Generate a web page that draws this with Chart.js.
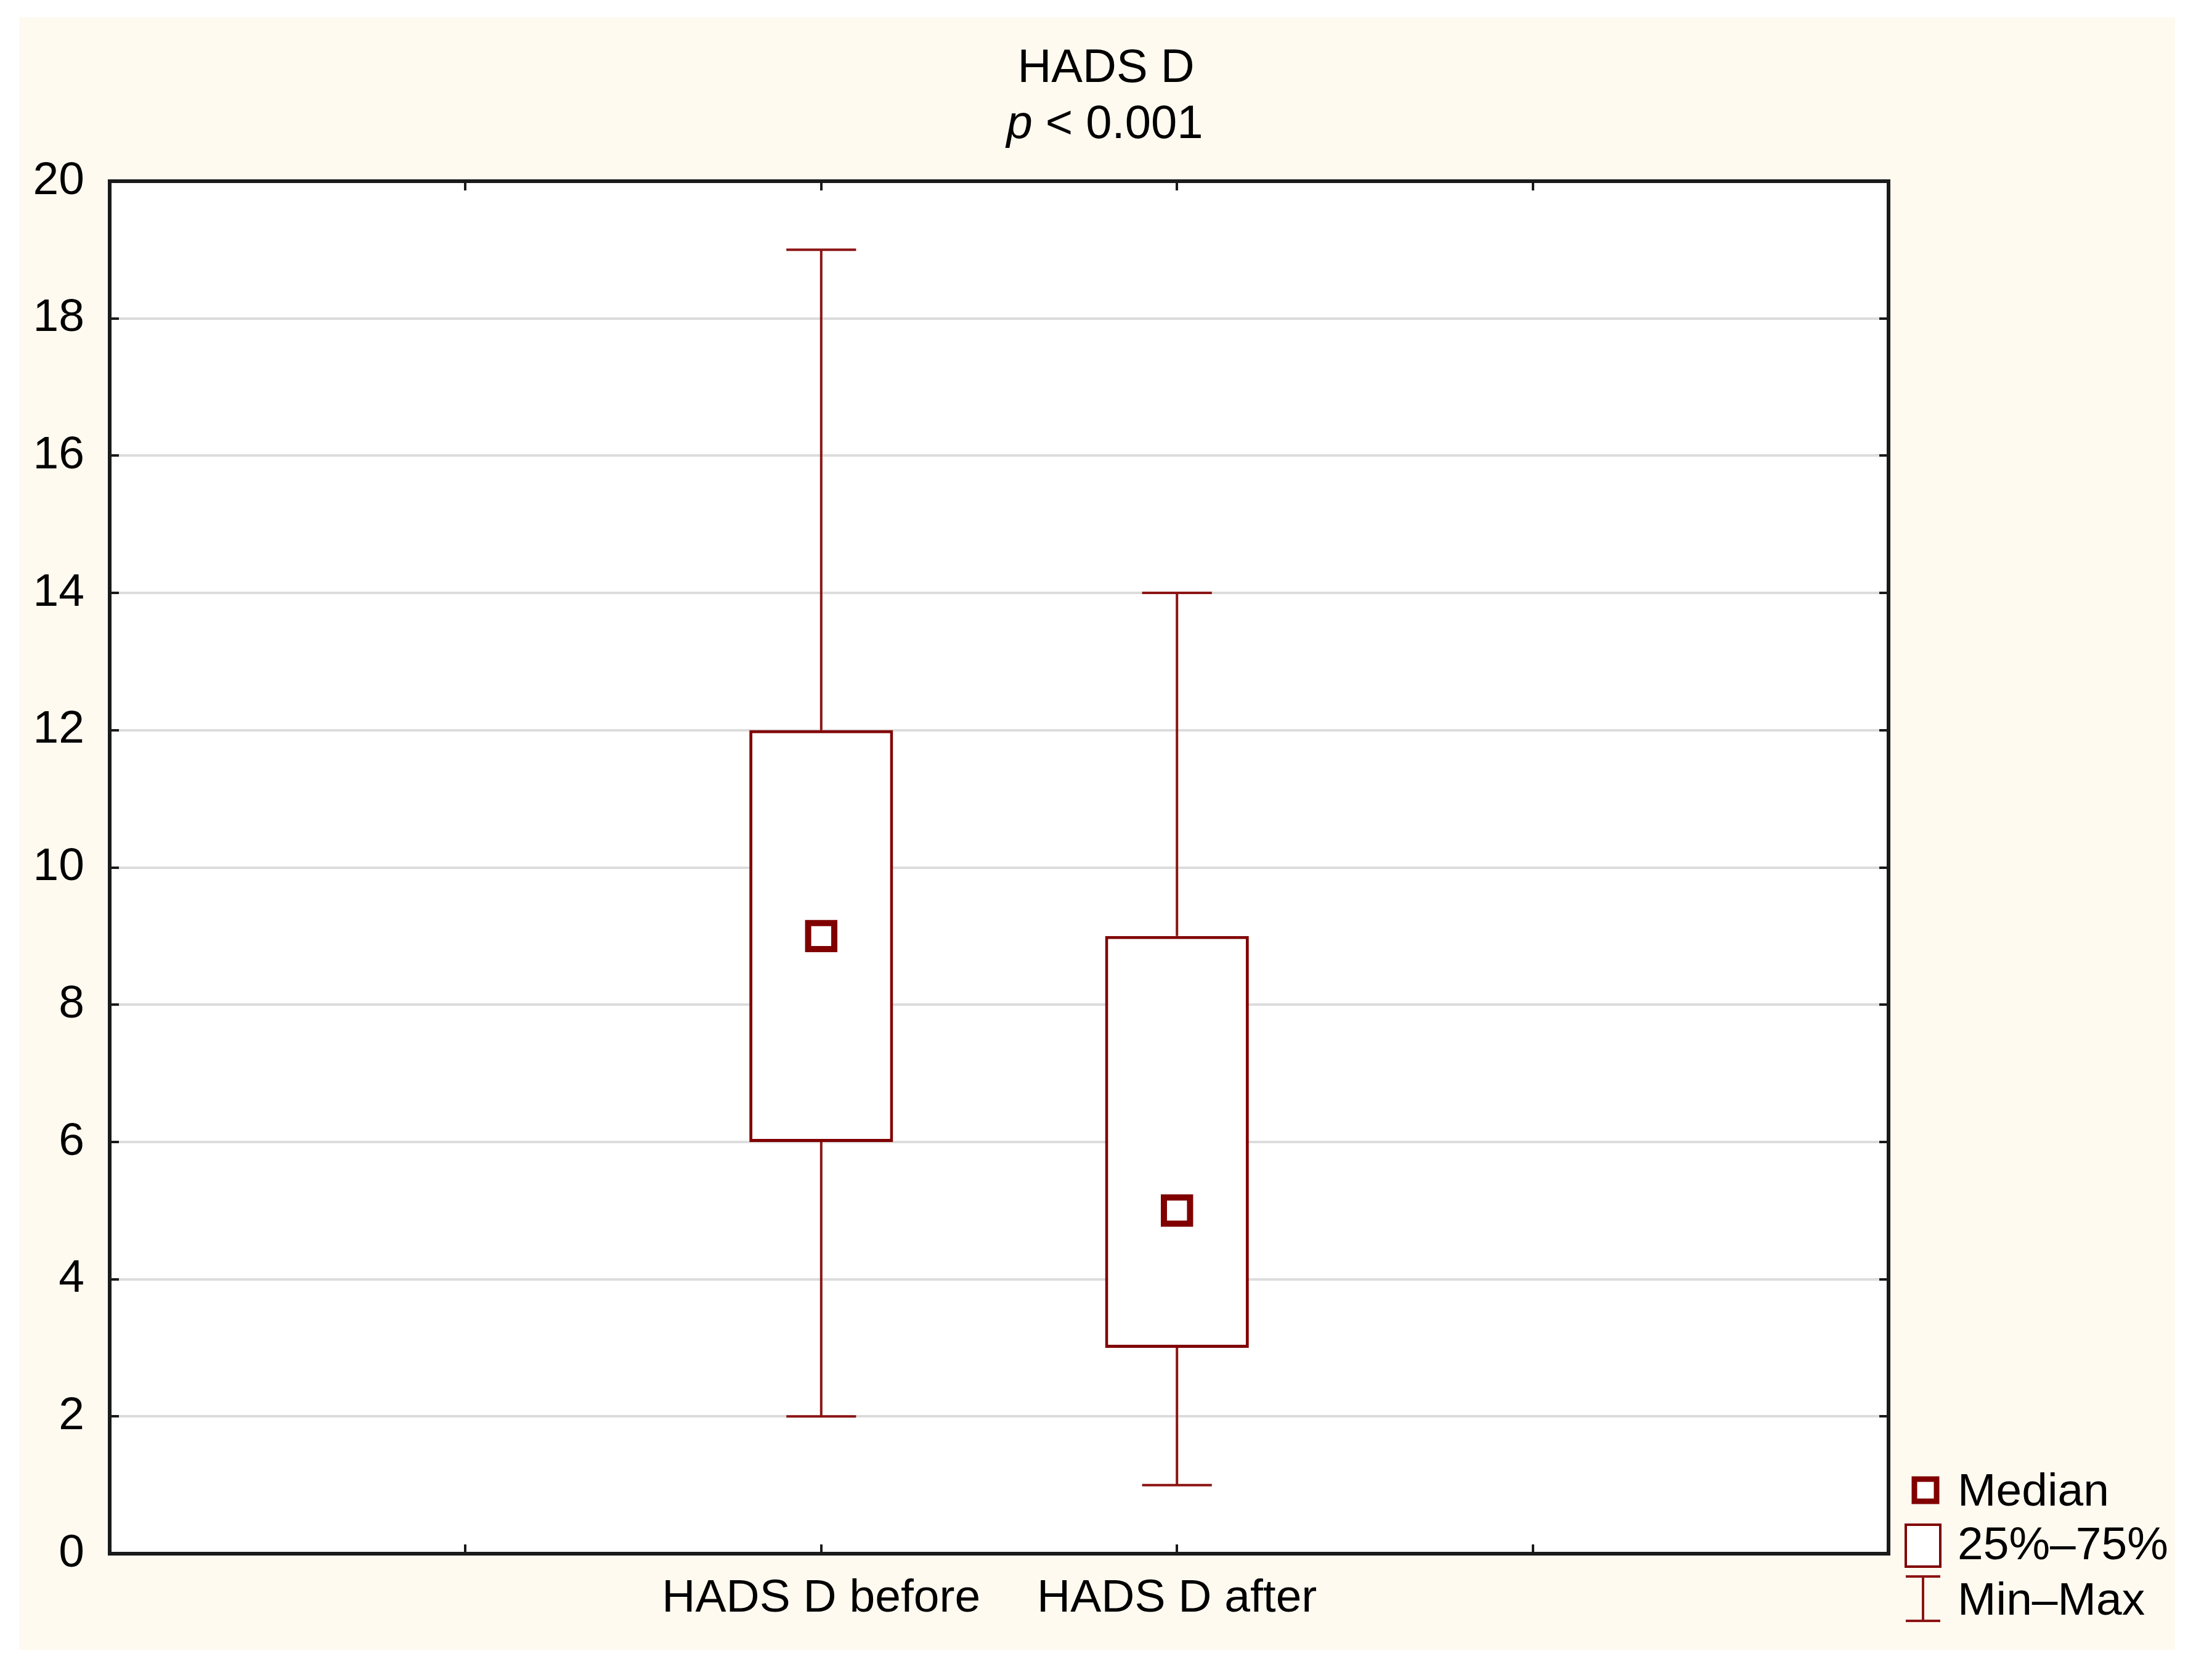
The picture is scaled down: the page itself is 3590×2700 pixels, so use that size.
<!DOCTYPE html>
<html><head><meta charset="utf-8">
<script src="https://cdn.jsdelivr.net/npm/chart.js@4/dist/chart.umd.min.js"></script>
<style>html,body{margin:0;padding:0;background:#fff;} canvas{display:block;}</style>
</head><body>
<canvas id="c" width="3590" height="2700" style="width:3590px;height:2700px"></canvas>
<script>
// ---- data ----
const categories = ['HADS D before', 'HADS D after'];
const catPositions = [2, 3];
const minValues = [2, 1];
const q1Values = [6, 3];
const medianValues = [9, 5];
const q3Values = [12, 9];
const maxValues = [19, 14];
const yTickValues = [0, 2, 4, 6, 8, 10, 12, 14, 16, 18, 20];
const xTickPositions = [1, 2, 3, 4];
const legendLabels = ['Median', '25%\u201375%', 'Min\u2013Max'];
const titleMain = 'HADS D';
const titleP = 'p';
const titleRest = ' < 0.001';

// ---- styles ----
const RED = '#800000';
const WRED = '#8c1414';
const FONT = '"Liberation Sans", Arial, sans-serif';
const CAP = 0.098;

const boxData = catPositions.map((x, i) => ({x: x, y: [q1Values[i], q3Values[i]]}));
const medData = catPositions.map((x, i) => ({x: x, y: medianValues[i]}));
const whiskerData = [];
catPositions.forEach((x, i) => {
  whiskerData.push({x: x, y: q3Values[i]}, {x: x, y: maxValues[i]}, {x: x, y: null});
  whiskerData.push({x: x - CAP, y: maxValues[i]}, {x: x + CAP, y: maxValues[i]}, {x: x, y: null});
  whiskerData.push({x: x, y: q1Values[i]}, {x: x, y: minValues[i]}, {x: x, y: null});
  whiskerData.push({x: x - CAP, y: minValues[i]}, {x: x + CAP, y: minValues[i]}, {x: x, y: null});
});

const bgPlugin = {
  id: 'bg',
  beforeDraw(chart) {
    const ctx = chart.ctx, a = chart.chartArea;
    ctx.save();
    ctx.fillStyle = '#ffffff';
    ctx.fillRect(0, 0, chart.width, chart.height);
    ctx.fillStyle = '#fffaf0';
    ctx.fillRect(31, 28, 3499, 2649);
    ctx.fillStyle = '#ffffff';
    ctx.fillRect(a.left, a.top, a.right - a.left, a.bottom - a.top);
    ctx.restore();
  }
};

const framePlugin = {
  id: 'frame',
  afterDatasetsDraw(chart) {
    const ctx = chart.ctx, a = chart.chartArea;
    const xs = chart.scales.x, ys = chart.scales.y;
    ctx.save();
    ctx.strokeStyle = '#1a1a1a';
    ctx.lineWidth = 4;
    xTickPositions.forEach(v => {
      const px = Math.round(xs.getPixelForValue(v));
      ctx.beginPath();
      ctx.moveTo(px, a.bottom); ctx.lineTo(px, a.bottom - 15);
      ctx.moveTo(px, a.top); ctx.lineTo(px, a.top + 15);
      ctx.stroke();
    });
    yTickValues.forEach(v => {
      const py = Math.round(ys.getPixelForValue(v));
      ctx.beginPath();
      ctx.moveTo(a.left, py); ctx.lineTo(a.left + 15, py);
      ctx.moveTo(a.right, py); ctx.lineTo(a.right - 15, py);
      ctx.stroke();
    });
    ctx.lineWidth = 6;
    ctx.strokeRect(a.left, a.top, a.right - a.left, a.bottom - a.top);
    ctx.restore();
  },
  afterDraw(chart) {
    const ctx = chart.ctx, a = chart.chartArea;
    ctx.save();
    ctx.fillStyle = '#000';
    ctx.textBaseline = 'alphabetic';
    // title
    const cx = chart.width / 2;
    ctx.font = '76px ' + FONT;
    ctx.textAlign = 'center';
    ctx.fillText(titleMain, cx, 133);
    ctx.textAlign = 'left';
    ctx.font = 'italic 76px ' + FONT;
    const wp = ctx.measureText(titleP).width;
    ctx.font = '76px ' + FONT;
    const wr = ctx.measureText(titleRest).width;
    const x0 = cx - 2 - (wp + wr) / 2;
    ctx.font = 'italic 76px ' + FONT;
    ctx.fillText(titleP, x0, 224);
    ctx.font = '76px ' + FONT;
    ctx.fillText(titleRest, x0 + wp, 224);

    // legend
    const lx = a.right + 28, tx = a.right + 112;
    // median marker
    ctx.strokeStyle = RED; ctx.lineWidth = 9; ctx.fillStyle = '#fff';
    ctx.fillRect(lx + 14, 2400, 36, 36);
    ctx.strokeRect(lx + 14, 2400, 36, 36);
    // box
    ctx.lineWidth = 4;
    ctx.fillRect(lx, 2474, 56, 68);
    ctx.strokeRect(lx, 2474, 56, 68);
    // min-max
    ctx.strokeStyle = WRED;
    ctx.beginPath();
    ctx.moveTo(lx, 2558); ctx.lineTo(lx + 56, 2558);
    ctx.moveTo(lx + 28, 2558); ctx.lineTo(lx + 28, 2630);
    ctx.moveTo(lx, 2630); ctx.lineTo(lx + 56, 2630);
    ctx.stroke();
    ctx.fillStyle = '#000';
    ctx.font = '75px ' + FONT;
    ctx.fillText(legendLabels[0], tx, 2443);
    ctx.fillText(legendLabels[1], tx, 2530);
    ctx.fillText(legendLabels[2], tx, 2620);
    ctx.restore();
  }
};

new Chart(document.getElementById('c'), {
  type: 'bar',
  data: {
    datasets: [
      {
        type: 'scatter', label: 'Median', data: medData, order: 1,
        pointStyle: 'rect', pointRadius: 30, pointHoverRadius: 30,
        borderColor: RED, backgroundColor: '#ffffff', borderWidth: 10, pointBorderWidth: 10
      },
      {
        type: 'bar', label: '25%-75%', data: boxData, order: 2,
        backgroundColor: '#ffffff', borderColor: RED, borderWidth: 5, borderSkipped: false,
        barPercentage: 0.404, categoryPercentage: 1.0
      },
      {
        type: 'line', label: 'Min-Max', data: whiskerData, order: 3,
        borderColor: WRED, borderWidth: 4, pointRadius: 0, spanGaps: false, fill: false,
        tension: 0, borderCapStyle: 'butt'
      }
    ]
  },
  options: {
    responsive: false,
    animation: false,
    events: [],
    layout: { padding: { top: 294, right: 525, left: 0, bottom: 0 } },
    plugins: { legend: { display: false }, title: { display: false }, tooltip: { enabled: false } },
    scales: {
      x: {
        type: 'linear', min: 0, max: 5, offset: false,
        afterFit(s) { s.height = 179; },
        afterBuildTicks(s) { s.ticks = [0, 1, 2, 3, 4, 5].map(v => ({value: v})); },
        ticks: {
          autoSkip: false, maxRotation: 0, padding: 28, color: '#000',
          font: { family: FONT, size: 75 },
          callback(v) { const i = catPositions.indexOf(v); return i >= 0 ? categories[i] : ''; }
        },
        grid: { display: false, drawTicks: false, offset: false },
        border: { display: false }
      },
      y: {
        type: 'linear', min: 0, max: 20,
        afterFit(s) { s.width = 178; },
        afterBuildTicks(s) { s.ticks = yTickValues.map(v => ({value: v})); },
        ticks: { padding: 41, color: '#000', font: { family: FONT, size: 75 } },
        grid: { color: '#dcdcdc', lineWidth: 4, drawTicks: false },
        border: { display: false }
      }
    }
  },
  plugins: [bgPlugin, framePlugin]
});
</script>
</body></html>
